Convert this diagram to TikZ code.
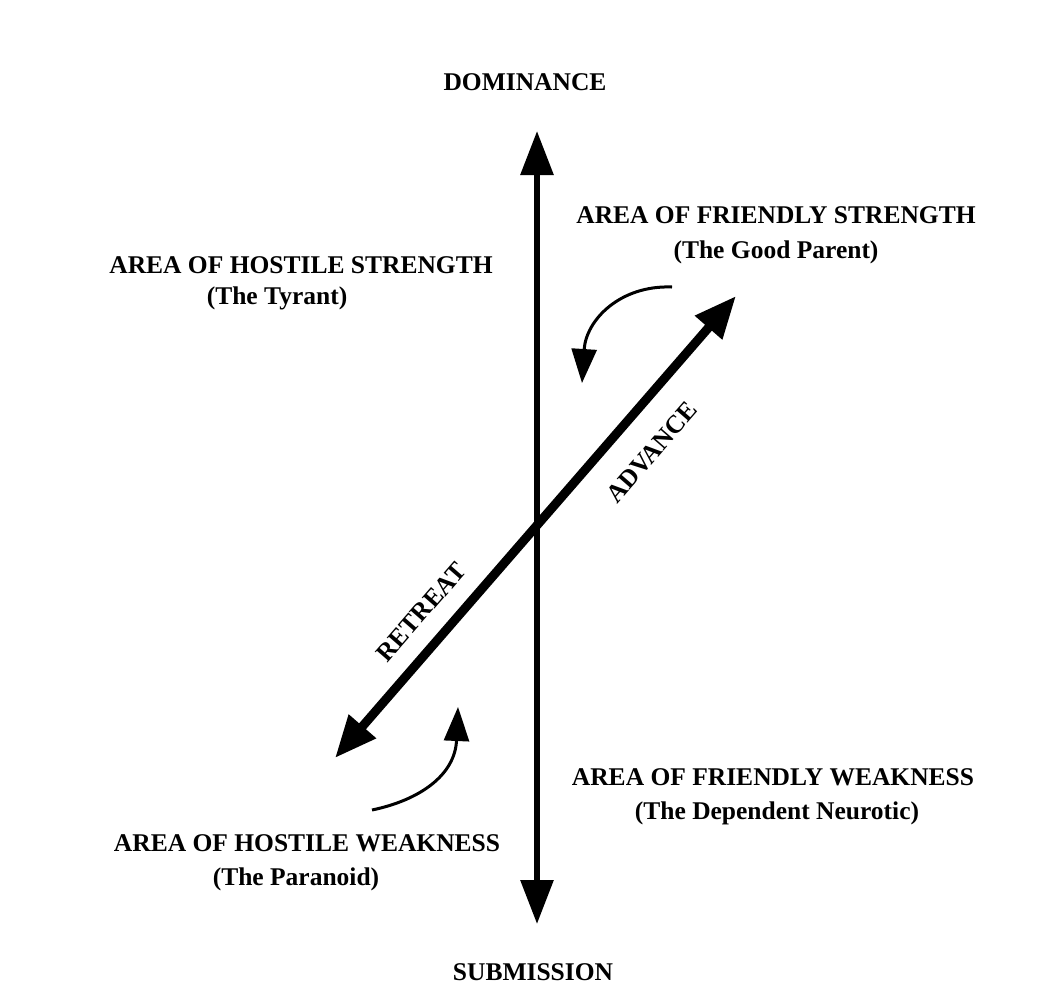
\documentclass[tikz,border=0pt]{standalone}
\usepackage{fontspec}
\setmainfont{Liberation Serif}
\usetikzlibrary{arrows.meta}
\tikzset{
  lbl/.style={font=\fontsize{25.5}{30}\selectfont\bfseries, inner sep=0pt, anchor=center},
  axisline/.style={line width=6pt, {Triangle[length=44pt,width=32pt]}-{Triangle[length=44pt,width=32pt]}},
  diagline/.style={line width=9pt, {Triangle[length=42pt,width=34pt]}-{Triangle[length=42pt,width=34pt]}},
  curvearrow/.style={line width=3pt, -{Triangle[length=34pt,width=25pt]}}
}
\begin{document}
\begin{tikzpicture}[x=1pt,y=-1pt]
\useasboundingbox[fill=white] (0,0) rectangle (1062,993);
% texts
\node[lbl] (dom) at (525,82) {DOMINANCE};
\node[lbl] (sub) at (533,972) {SUBMISSION};
\node[lbl] (hs1) at (301,265) {AREA OF HOSTILE STRENGTH};
\node[lbl] (hs2) at (277,298) {(The Tyrant)};
\node[lbl] (fs1) at (776,215) {AREA OF FRIENDLY STRENGTH};
\node[lbl] (fs2) at (776,252) {(The Good Parent)};
\node[lbl] (fw1) at (773,777) {AREA OF FRIENDLY WEAKNESS};
\node[lbl] (fw2) at (777,813) {(The Dependent Neurotic)};
\node[lbl] (hw1) at (307,843) {AREA OF HOSTILE WEAKNESS};
\node[lbl] (hw2) at (296,879) {(The Paranoid)};
\node[lbl, rotate=49] (adv) at (652,452) {ADVANCE};
\node[lbl, rotate=49] (ret) at (421,612) {RETREAT};
% axis endpoints
\coordinate (top) at (537,131);
\coordinate (bot) at (537,924);
\coordinate (ne) at (736,296);
\coordinate (sw) at (335,758);
\draw[axisline] (bot) -- (top);
\draw[diagline] (sw) -- (ne);
% curved arrows
\coordinate (c1s) at (672,287);
\coordinate (c1e) at (582,383);
\coordinate (c2s) at (372,810);
\coordinate (c2e) at (458,707);
\draw[curvearrow] (c1s) .. controls (620,285) and (586,320) .. (c1e);
\draw[curvearrow] (c2s) .. controls (420,800) and (455,775) .. (c2e);
\end{tikzpicture}
\end{document}
